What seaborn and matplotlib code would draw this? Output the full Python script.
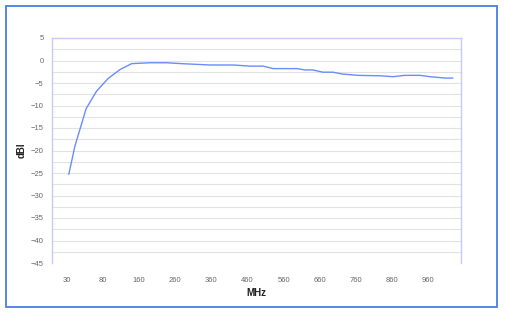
import matplotlib
matplotlib.use("Agg")
import matplotlib.pyplot as plt
import seaborn as sns
import pandas as pd
from matplotlib.patches import Rectangle

# category labels on the x axis (MHz)
freq_labels = ["30", "80", "160", "260", "360", "460", "560", "660", "760", "860", "960"]

# curve: position along the category axis (label units) and gain in dBi
pos = [0.05, 0.22, 0.53, 0.82, 1.14, 1.47, 1.79, 2.30, 2.76, 3.18, 3.96, 4.60, 5.07,
       5.43, 5.71, 6.37, 6.59, 6.81, 7.09, 7.37, 7.62, 8.06, 8.67, 9.03, 9.36, 9.78,
       10.06, 10.47, 10.69]
gain = [-25.3, -19.0, -10.7, -6.8, -4.0, -2.0, -0.7, -0.5, -0.5, -0.7, -1.0, -1.0, -1.25,
        -1.25, -1.8, -1.8, -2.1, -2.1, -2.6, -2.6, -3.0, -3.3, -3.4, -3.6, -3.3, -3.3,
        -3.6, -3.9, -3.9]

df = pd.DataFrame({"pos": pos, "gain": gain})

sns.set_style("white")
plt.rcParams["font.family"] = ["Liberation Sans", "DejaVu Sans"]

fig = plt.figure(figsize=(5.06, 3.14), dpi=100)
fig.patch.set_facecolor("white")
ax = fig.add_axes([52/506, 1 - 263/314, (461-52)/506, (263-38)/314])

# outer frame
fig.patches.append(Rectangle((5.7/506, 1 - 306.7/314), (496.7-5.7)/506, (306.7-5.7)/314,
                             transform=fig.transFigure, fill=False,
                             edgecolor="#4a7de6", linewidth=1.3))

for v in [5 - 2.5*i for i in range(21)]:
    ax.axhline(v, color="#e2e2e2", linewidth=0.8, zorder=0)

sns.lineplot(data=df, x="pos", y="gain", sort=False, ax=ax, color="#6a8cff", linewidth=1.0)

ax.set_ylim(-45, 5)
ax.set_xlim((52-67)/36.1, (461-67)/36.1)
ax.set_yticks(range(-45, 6, 5))
ax.set_xticks(range(len(freq_labels)))
ax.set_xticklabels(freq_labels)
ax.tick_params(axis="both", length=0, labelsize=5.5, labelcolor="#666666")
ax.tick_params(axis="x", pad=10)
ax.tick_params(axis="y", pad=6)

for side in ["left", "top", "right"]:
    ax.spines[side].set_color("#c8c8ff")
    ax.spines[side].set_linewidth(1.0)
ax.spines["bottom"].set_visible(False)

ax.set_xlabel("MHz", fontsize=7, fontweight="bold", labelpad=3, color="#222222")
ax.set_ylabel("dBI", fontsize=7, fontweight="bold", labelpad=3, color="#222222")

fig.savefig("out.png", dpi=100)
